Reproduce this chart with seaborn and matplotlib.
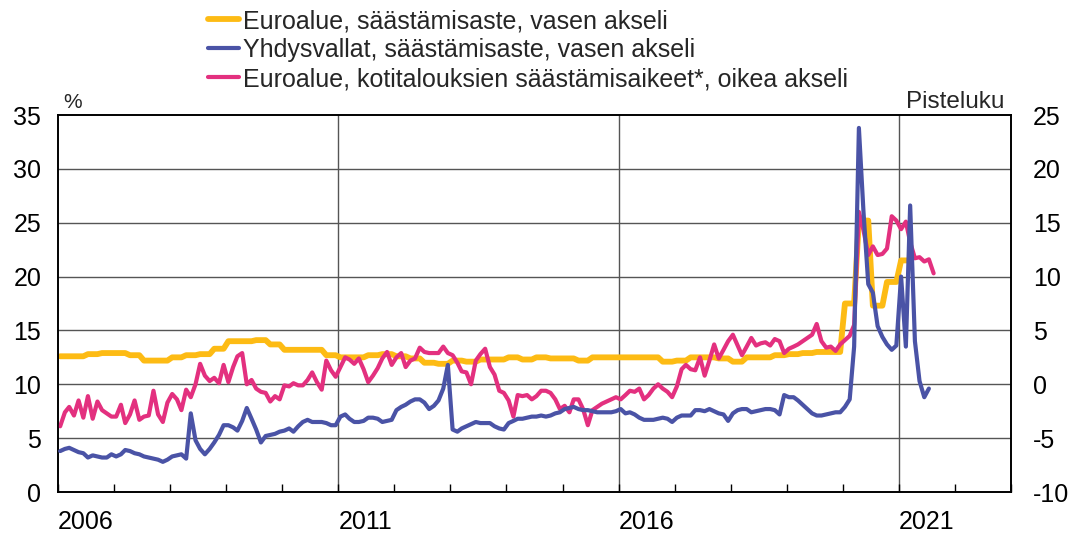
import numpy as np
import pandas as pd
import seaborn as sns
import matplotlib.pyplot as plt
import matplotlib.dates as mdates
from matplotlib.ticker import FixedLocator

sns.set_theme(style="white")
plt.rcParams["font.family"] = ["Liberation Sans", "DejaVu Sans"]
plt.rcParams["axes.unicode_minus"] = False

# Monthly from Jan 2006 (US saving rate, %) - ends Jul 2021
us_rate = [
    3.8, 4.0, 4.1, 3.9, 3.7, 3.6, 3.2, 3.4, 3.3, 3.2, 3.2, 3.5,
    3.3, 3.5, 3.9, 3.8, 3.6, 3.5, 3.3, 3.2, 3.1, 3.0, 2.8, 3.0,
    3.3, 3.4, 3.5, 3.1, 7.3, 4.8, 4.0, 3.5, 4.0, 4.6, 5.3, 6.2,
    6.2, 6.0, 5.7, 6.6, 7.8, 6.8, 5.8, 4.6, 5.2, 5.3, 5.4, 5.6,
    5.7, 5.9, 5.6, 6.1, 6.5, 6.7, 6.5, 6.5, 6.5, 6.4, 6.2, 6.2,
    7.0, 7.2, 6.8, 6.5, 6.5, 6.6, 6.9, 6.9, 6.8, 6.5, 6.6, 6.7,
    7.6, 7.9, 8.1, 8.4, 8.6, 8.6, 8.3, 7.7, 8.0, 8.5, 9.6, 11.8,
    5.8, 5.6, 5.9, 6.1, 6.3, 6.5, 6.4, 6.4, 6.4, 6.1, 5.9, 5.8,
    6.4, 6.6, 6.8, 6.8, 6.9, 7.0, 7.0, 7.1, 7.0, 7.1, 7.3, 7.4,
    7.7, 7.8, 7.9, 7.7, 7.6, 7.6, 7.5, 7.4, 7.4, 7.4, 7.4, 7.5,
    7.7, 7.3, 7.4, 7.2, 6.9, 6.7, 6.7, 6.7, 6.8, 6.9, 6.8, 6.5,
    6.9, 7.1, 7.1, 7.1, 7.6, 7.6, 7.5, 7.7, 7.5, 7.3, 7.2, 6.6,
    7.3, 7.6, 7.7, 7.7, 7.4, 7.5, 7.6, 7.7, 7.7, 7.6, 7.2, 9.0,
    8.8, 8.8, 8.5, 8.1, 7.7, 7.3, 7.1, 7.1, 7.2, 7.3, 7.4, 7.4,
    7.9, 8.6, 13.5, 33.8, 26.0, 19.3, 18.5, 15.4, 14.4, 13.7, 13.2, 13.6,
    20.0, 13.5, 26.6, 14.0, 10.3, 8.8, 9.6,
]

# Quarterly from 2006Q1 (euro area saving rate, %) - ends 2021Q1
euro_q = [
    12.6, 12.6, 12.8, 12.9,
    12.9, 12.7, 12.2, 12.2,
    12.5, 12.7, 12.8, 13.3,
    14.0, 14.0, 14.1, 13.7,
    13.2, 13.2, 13.2, 12.7,
    12.5, 12.5, 12.7, 12.8,
    12.6, 12.4, 12.0, 11.9,
    12.2, 12.1, 12.3, 12.3,
    12.5, 12.3, 12.5, 12.4,
    12.4, 12.2, 12.5, 12.5,
    12.5, 12.5, 12.5, 12.1,
    12.2, 12.5, 12.5, 12.4,
    12.1, 12.5, 12.5, 12.7,
    12.8, 12.9, 13.0, 13.0,
    17.5, 25.2, 17.3, 19.5,
    21.5,
]

# Monthly from Jan 2006 (euro area saving intentions, points) - ends Aug 2021
intentions = [
    -3.9, -2.6, -2.1, -2.9, -1.5, -3.1, -1.1, -3.2, -1.6, -2.4, -2.7, -3.0,
    -3.0, -1.9, -3.6, -2.8, -1.5, -3.3, -3.0, -2.9, -0.6, -2.8, -3.5, -1.7,
    -0.9, -1.4, -2.4, -0.5, -1.2, 0.0, 1.9, 0.8, 0.3, 0.6, 0.1, 1.8,
    0.2, 1.6, 2.6, 2.9, 0.0, 0.4, -0.4, -0.7, -0.8, -1.6, -1.1, -1.4,
    -0.1, -0.2, 0.1, -0.1, -0.1, 0.4, 1.1, 0.2, -0.5, 2.2, 1.3, 0.7,
    1.6, 2.5, 2.3, 1.9, 2.4, 1.4, 0.2, 0.8, 1.5, 2.4, 3.0, 1.8,
    2.5, 2.9, 1.6, 2.2, 2.4, 3.4, 3.0, 2.9, 2.9, 2.9, 3.5, 2.9,
    2.7, 2.0, 1.2, 1.1, 0.0, 2.2, 2.8, 3.3, 1.6, 0.9, -0.6, -0.8,
    -1.5, -3.0, -1.0, -1.1, -1.0, -1.4, -1.1, -0.6, -0.6, -0.8, -1.4, -2.3,
    -2.0, -2.6, -1.4, -1.4, -2.3, -3.8, -2.4, -2.1, -1.8, -1.6, -1.4, -1.2,
    -1.4, -1.0, -0.6, -0.7, -0.4, -1.4, -1.0, -0.4, 0.0, -0.4, -0.7, -1.2,
    -0.2, 1.4, 1.8, 1.4, 1.3, 2.5, 0.8, 2.2, 3.7, 2.4, 3.2, 4.0,
    4.6, 3.6, 2.7, 3.5, 4.3, 3.6, 3.8, 3.9, 3.6, 4.2, 4.0, 2.9,
    3.3, 3.5, 3.7, 4.0, 4.3, 4.6, 5.6, 4.0, 3.4, 3.5, 3.1, 3.7,
    4.1, 4.5, 5.5, 16.0, 14.3, 12.0, 12.8, 12.0, 12.1, 12.6, 15.6, 15.2,
    14.4, 15.1, 13.2, 11.7, 11.8, 11.4, 11.6, 10.3,
]

labels = [
    "Euroalue, säästämisaste, vasen akseli",
    "Yhdysvallat, säästämisaste, vasen akseli",
    "Euroalue, kotitalouksien säästämisaikeet*, oikea akseli",
]
colors = ["#FDBB14", "#4A53A6", "#E3307F"]
label_years = [2006, 2011, 2016, 2021]


def mid_month(n):
    return pd.date_range("2006-01-01", periods=n, freq="MS") + pd.Timedelta(days=14)


df_euro = pd.DataFrame({"date": mid_month(len(euro_q) * 3), "value": np.repeat(euro_q, 3)})
df_us = pd.DataFrame({"date": mid_month(len(us_rate)), "value": us_rate})
df_int = pd.DataFrame({"date": mid_month(len(intentions)), "value": intentions})

fig = plt.figure(figsize=(10.74, 5.34), dpi=100)
ax = fig.add_axes([58 / 1074, 42 / 534, 953 / 1074, 377 / 534])
ax2 = ax.twinx()   # right axis, saving intentions
ax3 = ax.twinx()   # invisible copy of left scale so US line sits on top

sns.lineplot(data=df_euro, x="date", y="value", ax=ax, color=colors[0], lw=4.2, legend=False)
sns.lineplot(data=df_int, x="date", y="value", ax=ax2, color=colors[2], lw=3.0, legend=False)
sns.lineplot(data=df_us, x="date", y="value", ax=ax3, color=colors[1], lw=3.0, legend=False)

xmin, xmax = pd.Timestamp("2006-01-01"), pd.Timestamp("2023-01-01")
for a in (ax, ax2, ax3):
    a.set_xlim(xmin, xmax)
    a.set_xlabel("")
    a.set_ylabel("")

ax.set_ylim(0, 35)
ax3.set_ylim(0, 35)
ax2.set_ylim(-10, 25)
ax.set_yticks(range(0, 36, 5))
ax2.set_yticks(range(-10, 26, 5))
ax3.axis("off")

# gridlines
for y in range(5, 35, 5):
    ax.axhline(y, color="#555555", lw=1.0, zorder=0)
for yr in label_years[1:]:
    ax.axvline(pd.Timestamp(f"{yr}-01-01"), color="#555555", lw=1.0, zorder=0)

# year tick marks (inward) and labels centred mid-year
ax.xaxis.set_minor_locator(mdates.YearLocator(1))
ax.xaxis.set_major_locator(FixedLocator([mdates.date2num(pd.Timestamp(f"{y}-07-01")) for y in label_years]))
ax.xaxis.set_major_formatter(mdates.DateFormatter("%Y"))
ax.tick_params(axis="x", which="minor", direction="in", length=6, width=1, color="black", bottom=True)
ax.tick_params(axis="x", which="major", length=0, pad=13, labelsize=18, labelcolor="black")
ax.tick_params(axis="y", length=0, pad=12, labelsize=18, labelcolor="black")
ax2.tick_params(axis="y", length=0, pad=16, labelsize=18, labelcolor="black")

for a in (ax, ax2):
    for s in a.spines.values():
        s.set_color("black")
        s.set_linewidth(1.2)

fig.text(63 / 1074, 1 - 102 / 534, "%", fontsize=15, ha="left", va="center")
fig.text(1004 / 1074, 1 - 102 / 534, "Pisteluku", fontsize=17.5, ha="right", va="center")

handles = [
    plt.Line2D([], [], color=colors[0], lw=4.2),
    plt.Line2D([], [], color=colors[1], lw=3.0),
    plt.Line2D([], [], color=colors[2], lw=3.0),
]
fig.legend(handles, labels, loc="upper left", bbox_to_anchor=(208 / 1074, 1 - 9 / 534),
           frameon=False, fontsize=18, handlelength=1.25, handletextpad=0.15,
           labelspacing=0.2, borderpad=0, borderaxespad=0)

fig.savefig("out.png", dpi=100)
